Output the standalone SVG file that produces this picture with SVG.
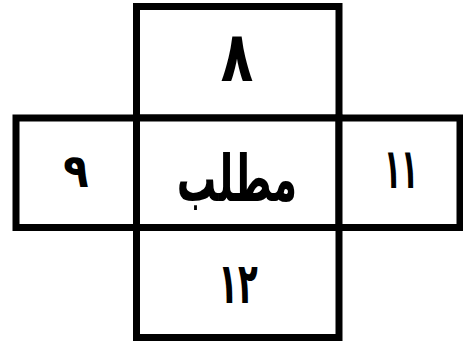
<svg xmlns="http://www.w3.org/2000/svg" width="463" height="345" viewBox="0 0 463 345">
<style>
.box{fill:#fff;stroke:#000;stroke-width:7;stroke-linejoin:miter}
.t{font-family:"DejaVu Sans","Noto Sans",sans-serif;font-weight:bold;fill:#000;text-anchor:middle}
</style>
<rect width="463" height="345" fill="#fff"/>
<g id="top"><rect class="box" x="136.5" y="6.5" width="202.5" height="111.5"/><text class="t" transform="translate(237 81) scale(0.95 1.25)" font-size="56">۸</text></g>
<g id="left"><rect class="box" x="16" y="118" width="120.5" height="109.5"/><text class="t" transform="translate(76 187) scale(0.8 0.9)" font-size="52">۹</text></g>
<g id="center"><rect class="box" x="136.5" y="118" width="202.5" height="109.5"/><text class="t" transform="translate(237 201) scale(0.82 1.35)" font-size="48" direction="rtl">مطلب</text></g>
<g id="right"><rect class="box" x="339" y="118" width="121" height="109.5"/><text class="t" transform="translate(401 188) scale(0.5 1)" font-size="56" letter-spacing="-10">۱۱</text></g>
<g id="bottom"><rect class="box" x="136.5" y="227.5" width="202.5" height="110"/><text class="t" transform="translate(238 303) scale(0.6 1.05)" font-size="54" letter-spacing="-6">۱۲</text></g>
<g id="connectors"></g>
</svg>
